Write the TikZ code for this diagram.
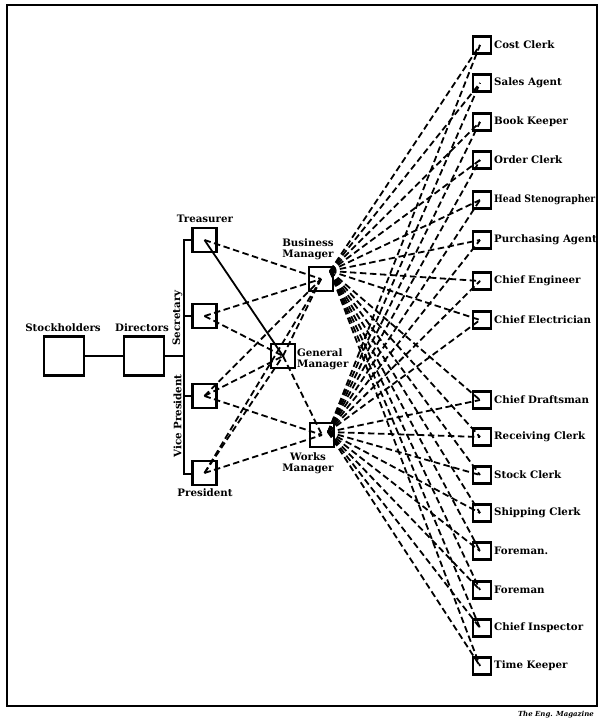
\documentclass[tikz,border=0pt]{standalone}
\usepackage{fontspec}
\setmainfont{DejaVu Serif}
\newcommand\lblfont{\fontsize{10.3}{11.2}\selectfont\bfseries}
\newcommand\creditfont{\fontsize{7}{8}\selectfont\bfseries\itshape}
\begin{document}
\begin{tikzpicture}[x=1bp,y=-1bp,
  bigbox/.style={draw,line width=2.4bp,minimum width=40bp,minimum height=39bp,inner sep=0pt},
  offbox/.style={draw,line width=2.4bp,minimum size=24bp,inner sep=0pt},
  empbox/.style={draw,line width=2.4bp,minimum width=18bp,minimum height=17bp,inner sep=0pt},
  lbl/.style={font=\lblfont,inner sep=0pt},
  link/.style={line width=1.8bp,dash pattern=on 6.5bp off 3.5bp},
  solidlink/.style={line width=1.8bp},
  orgline/.style={line width=2bp}]
\useasboundingbox (0,0) rectangle (599,721);

% outer frame
\draw[line width=2.4bp] (7,5) rectangle (597,706);
\node[font=\creditfont,anchor=east,inner sep=0pt] (credit) at (594,715) {The Eng. Magazine};

% owners
\node[bigbox] (stock) at (64,356) {};
\node[bigbox] (dir) at (144,356) {};
\node[lbl] (stock-t) at (63,328) {Stockholders};
\node[lbl] (dir-t) at (142,328) {Directors};

% officers
\node[offbox] (treas) at (204.5,240) {};
\node[offbox] (sec) at (204.5,316) {};
\node[offbox] (vp) at (204.5,396) {};
\node[offbox] (pres) at (204.5,473) {};
\node[lbl] (treas-t) at (205,219) {Treasurer};
\node[lbl] (pres-t) at (205,493) {President};
\node[lbl,rotate=90] (sec-t) at (177.5,318) {Secretary};
\node[lbl,rotate=90] (vp-t) at (177.5,416) {Vice President};

% officer bus
\coordinate (bustop) at (184,240);
\coordinate (busbot) at (184,474);
\coordinate (busmid) at (184,356);
\draw[orgline] (stock.east) -- (dir.west);
\draw[orgline] (dir.east) -- (busmid);
\draw[orgline] (treas.west) -- (bustop) -- (busbot) -- (pres.west |- busbot);
\draw[orgline] (sec.west) -- (sec.west -| bustop);
\draw[orgline] (vp.west) -- (vp.west -| bustop);

% managers
\node[offbox] (bm) at (321,279) {};
\node[offbox] (gm) at (283,356) {};
\node[offbox] (wm) at (322,435) {};
\node[lbl,align=center] (bm-t) at (308,249) {Business\\Manager};
\node[lbl,align=left,anchor=west] (gm-t) at (297,359) {General\\Manager};
\node[lbl,align=center] (wm-t) at (308,463) {Works\\Manager};
\coordinate (bmhub) at (330,271);
\coordinate (wmhub) at (328,432);

% staff
\foreach \n/\y/\t in {1/45/Cost Clerk, 2/83/Sales Agent, 3/122/Book Keeper,
    4/160/Order Clerk, 6/240/Purchasing Agent, 7/281/Chief Engineer,
    8/320/Chief Electrician, 9/400/Chief Draftsman, 10/437/Receiving Clerk,
    11/475/Stock Clerk, 12/513/Shipping Clerk, 13/551/Foreman.,
    14/590/Foreman, 15/628/Chief Inspector, 16/666/Time Keeper}{
  \node[empbox] (e\n) at (482,\y) {};
  \node[lbl,anchor=west] (e\n-t) at (494,\y) {\t};
}
\node[empbox] (e5) at (482,200) {};
\node[lbl,anchor=west,xscale=0.9] (e5-t) at (494,200) {Head Stenographer};

% officers to managers
\draw[link] (treas.center) -- (bm.center);
\draw[solidlink] (treas.center) -- (gm.center);
\draw[link] (sec.center) -- (bm.center);
\draw[link] (sec.center) -- (gm.center);
\draw[link] (vp.center) -- (bm.center);
\draw[link] (vp.center) -- (gm.center);
\draw[link] (vp.center) -- (wm.center);
\draw[link] (pres.center) -- (bm.center);
\draw[link] (pres.center) -- (gm.center);
\draw[link] (pres.center) -- (wm.center);
\draw[link] (gm.center) -- (bm.center);
\draw[link] (gm.center) -- (wm.center);

% managers to staff
\foreach \i in {1,...,16}{
  \draw[link] (bmhub) -- ([xshift=-2bp]e\i.center);
  \draw[link] (wmhub) -- ([xshift=-2bp]e\i.center);
}
\end{tikzpicture}
\end{document}
